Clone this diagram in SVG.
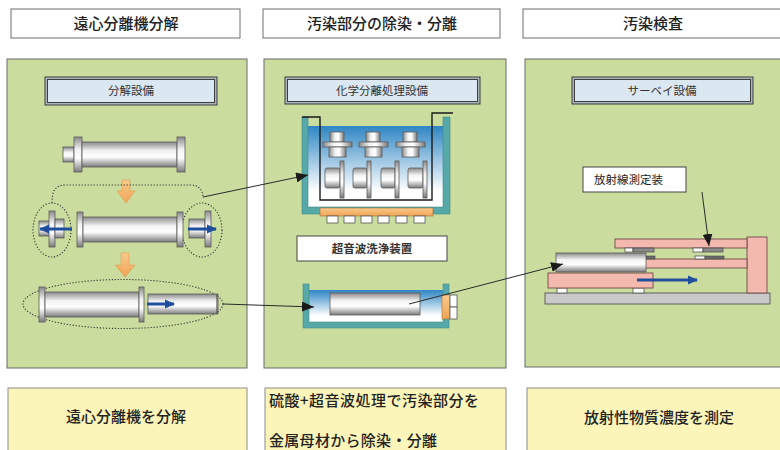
<svg xmlns="http://www.w3.org/2000/svg" width="780" height="450" viewBox="0 0 780 450">
  <style>
    .hdr { fill: #ffffff; stroke: #6e6e6e; stroke-width: 1; }
    .panel { fill: #cadd9e; stroke: #6a6a6a; stroke-width: 1; }
    .note { fill: #fcf5b9; stroke: #8a8a8a; stroke-width: 1; }
    .t { font-family: "Noto Sans CJK JP", "Noto Sans", sans-serif; fill: #222; }
    .h15 { font-size: 15px; text-anchor: middle; font-weight: 500; }
    .b15 { font-size: 15px; font-weight: 500; }
    .s11 { font-size: 11.5px; fill: #333; text-anchor: middle; }
    .subOut { fill: #aab4bd; stroke: #3e3e3e; stroke-width: 1; }
    .subIn { fill: #dbe8f2; stroke: #3e3e3e; stroke-width: 1; }
    .cyl { fill: url(#cylH); stroke: #5a5a5a; stroke-width: 0.8; }
    .cylv { fill: url(#cylV); stroke: #5a5a5a; stroke-width: 0.8; }
    .dot { fill: none; stroke: #333; stroke-width: 1.1; stroke-dasharray: 1.2 1.8; }
    .blue { stroke: #1f4f9c; stroke-width: 3; fill: none; marker-end: url(#headBlue); }
    .link { stroke: #2a2a2a; stroke-width: 1; fill: none; marker-end: url(#headBlack); }
    .teal { fill: #57a8a8; stroke: #3d8a8a; stroke-width: 0.6; }
    .orng { fill: url(#orng); stroke: #9a7040; stroke-width: 0.6; }
    .pink { fill: #f4b9ae; stroke: #6e4c48; stroke-width: 0.9; }
    .wbox { fill: #ffffff; stroke: #555; stroke-width: 0.8; }
    .basket { fill: none; stroke: #1a1a1a; stroke-width: 1.4; }
  </style>
  <defs>
    <linearGradient id="cylH" x1="0" y1="0" x2="0" y2="1">
      <stop offset="0" stop-color="#8a8a8a"/>
      <stop offset="0.35" stop-color="#f2f2f2"/>
      <stop offset="0.6" stop-color="#ffffff"/>
      <stop offset="1" stop-color="#7a7a7a"/>
    </linearGradient>
    <linearGradient id="cylV" x1="0" y1="0" x2="1" y2="0">
      <stop offset="0" stop-color="#8a8a8a"/>
      <stop offset="0.35" stop-color="#f2f2f2"/>
      <stop offset="0.6" stop-color="#ffffff"/>
      <stop offset="1" stop-color="#7a7a7a"/>
    </linearGradient>
    <linearGradient id="liquid" x1="0" y1="0" x2="0" y2="1">
      <stop offset="0" stop-color="#2f86c4"/>
      <stop offset="0.8" stop-color="#ffffff"/>
    </linearGradient>
    <linearGradient id="orng" x1="0" y1="0" x2="0" y2="1">
      <stop offset="0" stop-color="#f9c98a"/>
      <stop offset="1" stop-color="#f0a456"/>
    </linearGradient>
    <marker id="headBlack" viewBox="0 0 12 10" refX="12" refY="5" markerWidth="12" markerHeight="10" markerUnits="userSpaceOnUse" orient="auto">
      <path d="M0,0 L12,5 L0,10 Z" fill="#1a1a1a"/>
    </marker>
    <marker id="headBlue" viewBox="0 0 10 10" refX="9" refY="5" markerWidth="10" markerHeight="10" markerUnits="userSpaceOnUse" orient="auto">
      <path d="M0,0.5 L10,5 L0,9.5 Z" fill="#1f4f9c"/>
    </marker>
  </defs>

  <!-- step headers -->
  <g id="header-disassembly">
    <rect class="hdr" x="11" y="9" width="229" height="29"/>
    <text class="t h15" x="126" y="29">遠心分離機分解</text>
  </g>
  <g id="header-decontamination">
    <rect class="hdr" x="263" y="9" width="237" height="29"/>
    <text class="t h15" x="382" y="29">汚染部分の除染・分離</text>
  </g>
  <g id="header-inspection">
    <rect class="hdr" x="523" y="9" width="270" height="29"/>
    <text class="t h15" x="653" y="29">汚染検査</text>
  </g>

  <!-- panel 1: disassembly equipment -->
  <g id="panel-disassembly">
    <rect class="panel" x="7" y="59" width="240" height="309"/>
    <rect class="subOut" x="45" y="77" width="172" height="28"/>
    <rect class="subIn" x="47.5" y="79.5" width="167" height="23"/>
    <text class="t s11" x="131" y="95">分解設備</text>

    <!-- assembled rotor -->
    <rect class="cyl" x="63" y="147" width="11" height="15"/>
    <rect class="cyl" x="74" y="137" width="8" height="35"/>
    <rect class="cyl" x="82" y="142" width="95" height="25"/>
    <rect class="cyl" x="177" y="137" width="8" height="35"/>

    <path d="M122,180 H130 V191 H135 L126,203 L117,191 H122 Z" fill="url(#orng)" stroke="#e09a50" stroke-width="0.6"/>

    <!-- end fittings removed -->
    <path class="dot" d="M52,203 C52,191 55,185 66,185 H190 C199,185 203,190 203,198"/>
    <ellipse class="dot" cx="52" cy="230" rx="19" ry="27"/>
    <ellipse class="dot" cx="202" cy="230" rx="20" ry="27"/>
    <rect class="cyl" x="39" y="221" width="11" height="15"/>
    <rect class="cyl" x="49" y="211" width="6" height="36"/>
    <rect class="cyl" x="55" y="219" width="9" height="19"/>
    <rect class="cyl" x="77" y="212" width="6" height="35"/>
    <rect class="cyl" x="83" y="217" width="94" height="25"/>
    <rect class="cyl" x="177" y="212" width="6" height="35"/>
    <rect class="cyl" x="189" y="219" width="16" height="19"/>
    <rect class="cyl" x="205" y="211" width="6" height="36"/>
    <line class="blue" x1="72" y1="229" x2="40" y2="229"/>
    <line class="blue" x1="188" y1="229" x2="216" y2="229"/>

    <path d="M121,253 H129 V265 H135 L125,277 L115,265 H121 Z" fill="url(#orng)" stroke="#e09a50" stroke-width="0.6"/>

    <!-- inner cylinder drawn out -->
    <ellipse class="dot" cx="123" cy="304" rx="100" ry="24.5"/>
    <rect class="cyl" x="39" y="287" width="6" height="35"/>
    <rect class="cyl" x="45" y="292" width="94" height="25"/>
    <rect class="cyl" x="139" y="287" width="5" height="35"/>
    <rect class="cyl" x="148" y="294" width="70" height="20"/>
    <line x1="217" y1="294" x2="217" y2="314" stroke="#555" stroke-width="1.2"/>
    <line class="blue" x1="147" y1="304" x2="174" y2="304"/>
  </g>

  <!-- panel 2: chemical separation equipment -->
  <g id="panel-chemical">
    <rect class="panel" x="264" y="59" width="242" height="309"/>
    <rect class="subOut" x="285" y="77" width="195" height="27"/>
    <rect class="subIn" x="287.5" y="79.5" width="190" height="22"/>
    <text class="t s11" x="382" y="94.5">化学分離処理設備</text>

    <!-- acid bath with basket -->
    <rect x="308" y="126" width="135" height="81" fill="url(#liquid)"/>
    <path class="teal" d="M302,117 H308 V207 H443 V117 H450 V214 H302 Z"/>
    <g id="upright-parts">
      <rect class="cylv" x="330" y="132" width="14" height="10"/>
      <rect class="cylv" x="323" y="142" width="29" height="5"/>
      <rect class="cylv" x="329" y="147" width="17" height="10"/>
      <rect class="cylv" x="366" y="132" width="14" height="10"/>
      <rect class="cylv" x="359" y="142" width="29" height="5"/>
      <rect class="cylv" x="365" y="147" width="17" height="10"/>
      <rect class="cylv" x="403" y="132" width="14" height="10"/>
      <rect class="cylv" x="396" y="142" width="29" height="5"/>
      <rect class="cylv" x="402" y="147" width="17" height="10"/>
    </g>
    <g id="lying-parts">
      <rect class="cyl" x="325" y="168" width="15" height="20" rx="2"/>
      <rect class="cyl" x="340" y="161" width="4" height="37"/>
      <rect class="cyl" x="353" y="168" width="14" height="20" rx="2"/>
      <rect class="cyl" x="367" y="161" width="4" height="37"/>
      <rect class="cyl" x="381" y="168" width="14" height="20" rx="2"/>
      <rect class="cyl" x="395" y="161" width="4" height="37"/>
      <rect class="cyl" x="408" y="168" width="15" height="20" rx="2"/>
      <rect class="cyl" x="423" y="161" width="4" height="37"/>
    </g>
    <path class="basket" d="M302,117 H320 V200 H432 V113 H453"/>
    <rect class="orng" x="320" y="208" width="113" height="8"/>
    <rect class="wbox" x="327" y="216" width="11" height="7"/>
    <rect class="wbox" x="344" y="216" width="11" height="7"/>
    <rect class="wbox" x="361" y="216" width="11" height="7"/>
    <rect class="wbox" x="378" y="216" width="11" height="7"/>
    <rect class="wbox" x="396" y="216" width="11" height="7"/>
    <rect class="wbox" x="414" y="216" width="11" height="7"/>

    <rect x="297" y="236" width="150" height="25" fill="#ffffff" stroke="#444" stroke-width="1"/>
    <text class="t s11" x="372" y="252.5" font-weight="bold" fill="#222">超音波洗浄装置</text>

    <!-- ultrasonic bath -->
    <rect x="309" y="290" width="134" height="32" fill="url(#liquid)"/>
    <path class="teal" d="M303,284 H309 V322 H443 V284 H449 V328 H303 Z"/>
    <rect class="cyl" x="330" y="293" width="90" height="22"/>
    <rect class="orng" x="442" y="295" width="8" height="24"/>
    <rect class="wbox" x="450" y="295" width="7" height="12"/>
    <rect class="wbox" x="450" y="307" width="7" height="12"/>
  </g>

  <!-- panel 3: survey equipment -->
  <g id="panel-survey">
    <rect class="panel" x="525" y="59" width="265" height="308"/>
    <rect class="subOut" x="572" y="77" width="181" height="27"/>
    <rect class="subIn" x="574.5" y="79.5" width="176" height="22"/>
    <text class="t s11" x="662" y="94.5">サーベイ設備</text>

    <g id="detector-label">
      <rect x="583" y="167" width="103" height="25" fill="#ffffff" stroke="#444" stroke-width="1"/>
      <text class="t" x="594" y="184" font-size="11.5" fill="#333">放射線測定装</text>
    </g>

    <!-- measuring stage -->
    <rect x="545" y="293" width="225" height="11" fill="#c9c9c9" stroke="#555" stroke-width="0.9"/>
    <rect class="wbox" x="557" y="288" width="10" height="5"/>
    <rect class="wbox" x="633" y="288" width="11" height="5"/>
    <rect class="pink" x="548" y="273" width="105" height="15"/>
    <rect class="pink" x="747" y="237" width="20" height="56"/>
    <rect class="pink" x="615" y="239" width="132" height="9"/>
    <rect class="pink" x="645" y="259" width="102" height="9"/>
    <rect class="wbox" x="625" y="248" width="8" height="4"/>
    <rect x="633" y="248" width="21" height="4" fill="#8a8a8a" stroke="#444" stroke-width="0.7"/>
    <rect class="wbox" x="693" y="248" width="10" height="4"/>
    <rect x="703" y="248" width="20" height="4" fill="#8a8a8a" stroke="#444" stroke-width="0.7"/>
    <rect x="646" y="256" width="9" height="3" fill="#6a6a6a" stroke="#444" stroke-width="0.6"/>
    <rect class="wbox" x="695" y="256" width="10" height="3"/>
    <rect x="705" y="256" width="19" height="3" fill="#6a6a6a" stroke="#444" stroke-width="0.6"/>
    <rect class="cyl" x="556" y="253" width="90" height="19"/>
    <line class="blue" x1="637" y1="280" x2="697" y2="280"/>
  </g>

  <!-- summaries -->
  <g id="summary-disassembly">
    <rect class="note" x="8" y="388" width="239" height="72"/>
    <text class="t h15" x="126" y="422">遠心分離機を分解</text>
  </g>
  <g id="summary-decontamination">
    <rect class="note" x="265" y="388" width="241" height="72"/>
    <text class="t b15" x="269" y="406" letter-spacing="0.5">硫酸+超音波処理で汚染部分を</text>
    <text class="t b15" x="269" y="446" letter-spacing="0.3">金属母材から除染・分離</text>
  </g>
  <g id="summary-inspection">
    <rect class="note" x="527" y="388" width="265" height="72"/>
    <text class="t h15" x="659" y="423">放射性物質濃度を測定</text>
  </g>

  <!-- connectors -->
  <g id="connectors">
    <line class="link" x1="203" y1="197" x2="308" y2="175"/>
    <line class="link" x1="223" y1="304" x2="314" y2="307"/>
    <line class="link" x1="409" y1="304" x2="563" y2="264"/>
    <line class="link" x1="702" y1="192" x2="709" y2="246"/>
  </g>
</svg>
